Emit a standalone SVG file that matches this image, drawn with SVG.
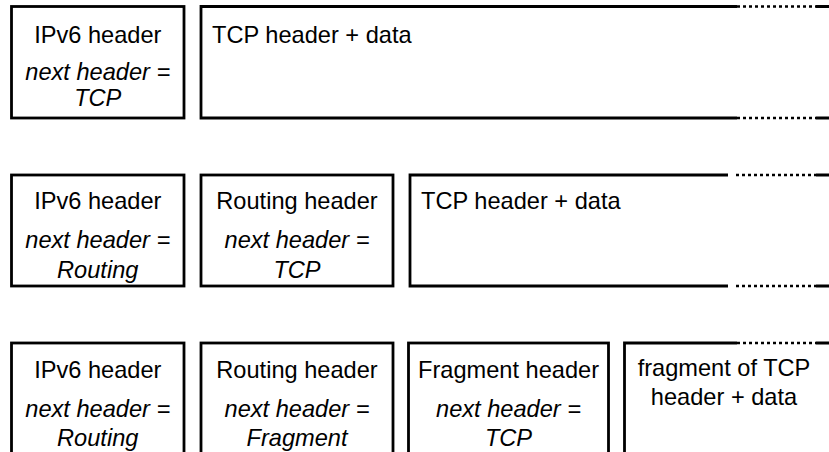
<svg xmlns="http://www.w3.org/2000/svg" width="829" height="452" viewBox="0 0 829 452">
<style>
.box{fill:none;stroke:#000;stroke-width:2.8}
.dot{fill:none;stroke:#000;stroke-width:2.4;stroke-dasharray:3 3}
text{font-family:"Liberation Sans",Arial,sans-serif;font-size:23.6px;fill:#000}
.c{text-anchor:middle}
.i{font-style:italic}
</style>
<rect width="829" height="452" fill="#fff"/>
<!-- Row 1 -->
<g id="r1-ipv6">
<rect class="box" x="11.5" y="6.5" width="172.5" height="111.5"/>
<text class="c" x="97.75" y="43">IPv6 header</text>
<text class="c i" x="97.75" y="80">next header =</text>
<text class="c i" x="97.75" y="106">TCP</text>
</g>
<g id="r1-tcp">
<path class="box" d="M737,6.5 H201 V118 H737 M816,6.5 H829 M816,118 H829"/>
<path class="dot" d="M737,6.5 H816 M737,118 H816"/>
<text x="212" y="43">TCP header + data</text>
</g>
<!-- Row 2 -->
<g id="r2-ipv6">
<rect class="box" x="11.5" y="175" width="172.5" height="111"/>
<text class="c" x="97.75" y="209">IPv6 header</text>
<text class="c i" x="97.75" y="248">next header =</text>
<text class="c i" x="97.75" y="278">Routing</text>
</g>
<g id="r2-routing">
<rect class="box" x="201" y="175" width="192" height="111"/>
<text class="c" x="297" y="209">Routing header</text>
<text class="c i" x="297" y="248">next header =</text>
<text class="c i" x="297" y="278">TCP</text>
</g>
<g id="r2-tcp">
<path class="box" d="M728,175 H410 V286 H728 M816,175 H829 M816,286 H829"/>
<path class="dot" d="M736,175 H816 M736,286 H816"/>
<text x="421" y="209">TCP header + data</text>
</g>
<!-- Row 3 -->
<g id="r3-ipv6">
<rect class="box" x="11.5" y="343" width="172.5" height="130"/>
<text class="c" x="97.75" y="378">IPv6 header</text>
<text class="c i" x="97.75" y="417">next header =</text>
<text class="c i" x="97.75" y="446">Routing</text>
</g>
<g id="r3-routing">
<rect class="box" x="201" y="343" width="192" height="130"/>
<text class="c" x="297" y="378">Routing header</text>
<text class="c i" x="297" y="417">next header =</text>
<text class="c i" x="297" y="446">Fragment</text>
</g>
<g id="r3-fragment">
<rect class="box" x="408.5" y="343" width="200" height="130"/>
<text class="c" x="508.5" y="378">Fragment header</text>
<text class="c i" x="508.5" y="417">next header =</text>
<text class="c i" x="508.5" y="446">TCP</text>
</g>
<g id="r3-tcpfrag">
<path class="box" d="M737,343 H624.5 V470 M816,343 H829"/>
<path class="dot" d="M737,343 H816"/>
<text class="c" x="724" y="376">fragment of TCP</text>
<text class="c" x="724" y="405">header + data</text>
</g>
</svg>
